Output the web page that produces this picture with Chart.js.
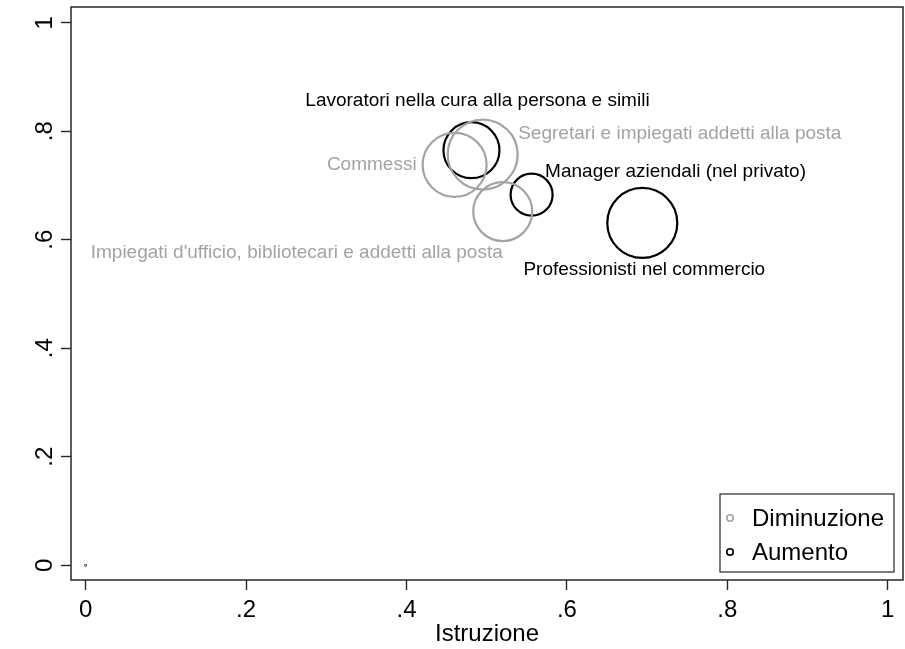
<!DOCTYPE html>
<html>
<head>
<meta charset="utf-8">
<script src="https://cdn.jsdelivr.net/npm/chart.js@4/dist/chart.umd.min.js"></script>
<style>
  html, body { margin: 0; padding: 0; background: #ffffff; }
  #c { display: block; }
</style>
</head>
<body>
<canvas id="c" width="905" height="649"></canvas>
<script>
// Occupations whose weight decreased (grey) and increased (black)
const catDiminuzione = [
  "Commessi",
  "Segretari e impiegati addetti alla posta",
  "Impiegati d'ufficio, bibliotecari e addetti alla posta"
];
const istruzioneDiminuzione = [0.460, 0.495, 0.520];
const valoreDiminuzione = [0.738, 0.757, 0.652];
const pesoDiminuzione = [32, 35, 29.5];

const catAumento = [
  "Lavoratori nella cura alla persona e simili",
  "Manager aziendali (nel privato)",
  "Professionisti nel commercio",
  ""
];
const istruzioneAumento = [0.481, 0.556, 0.694, 0];
const valoreAumento = [0.765, 0.683, 0.631, 0];
const pesoAumento = [28, 21, 35, 0.3];

const xTicks = [0, 0.2, 0.4, 0.6, 0.8, 1];
const xTickLabels = ["0", ".2", ".4", ".6", ".8", "1"];
const yTicks = [0, 0.2, 0.4, 0.6, 0.8, 1];
const yTickLabels = ["0", ".2", ".4", ".6", ".8", "1"];

const xTitle = "Istruzione";
const serieNomi = ["Diminuzione", "Aumento"];

// ---- styling ----
const FONT = "'Liberation Sans', Arial, Helvetica, sans-serif";
const GREY = "#a3a3a3";
const BLACK = "#000000";
const AXIS = "#262626";

// label placement around each bubble (clock position, gap and shift in px)
const labelPlacement = {
  "Commessi": { clock: 9, gap: 6, dx: 0 },
  "Segretari e impiegati addetti alla posta": { clock: 2, gap: 6, dx: 0 },
  "Impiegati d'ufficio, bibliotecari e addetti alla posta": { clock: 7, gap: 2, dx: 0 },
  "Lavoratori nella cura alla persona e simili": { clock: 12, gap: 12, dx: 6 },
  "Manager aziendali (nel privato)": { clock: 1, gap: 6, dx: 0 },
  "Professionisti nel commercio": { clock: 6, gap: 2, dx: 2 }
};

function toPoints(xs, ys, rs) {
  return xs.map((x, i) => ({ x: x, y: ys[i], r: rs[i] }));
}

const decor = {
  id: 'decor',
  afterDatasetsDraw(chart) {
    const ctx = chart.ctx;
    const ca = chart.chartArea;
    ctx.save();

    // plot frame
    ctx.strokeStyle = AXIS;
    ctx.lineWidth = 1.5;
    ctx.strokeRect(ca.left, ca.top, ca.right - ca.left, ca.bottom - ca.top);

    // marker labels
    ctx.font = "19px " + FONT;
    chart.data.datasets.forEach((ds, di) => {
      const meta = chart.getDatasetMeta(di);
      ds.names.forEach((name, i) => {
        const pl = labelPlacement[name];
        if (!name || !pl) return;
        const el = meta.data[i];
        const r = el.options.radius;
        const d = r + pl.gap;
        const ang = (90 - pl.clock * 30) * Math.PI / 180;
        let x = el.x, y = el.y;
        ctx.fillStyle = ds.labelColor;
        if (pl.clock === 12) {
          ctx.textAlign = 'center'; ctx.textBaseline = 'bottom';
          y = el.y - d;
        } else if (pl.clock === 6) {
          ctx.textAlign = 'center'; ctx.textBaseline = 'top';
          y = el.y + d;
        } else if (pl.clock === 9) {
          ctx.textAlign = 'right'; ctx.textBaseline = 'middle';
          x = el.x - d;
        } else if (pl.clock === 7) {
          ctx.textAlign = 'right'; ctx.textBaseline = 'top';
          y = el.y + d;
        } else {
          ctx.textAlign = 'left'; ctx.textBaseline = 'middle';
          x = el.x + d * Math.cos(ang);
          y = el.y - d * Math.sin(ang);
        }
        ctx.fillText(name, x + pl.dx, y);
      });
    });

    // rotated y tick labels
    const ys = chart.scales.y;
    ctx.fillStyle = BLACK;
    ctx.font = "24px " + FONT;
    ctx.textAlign = 'center';
    ctx.textBaseline = 'alphabetic';
    yTicks.forEach((v, i) => {
      const py = ys.getPixelForValue(v);
      ctx.save();
      ctx.translate(ca.left - 28, py);
      ctx.rotate(-Math.PI / 2);
      ctx.fillText(yTickLabels[i], 0, 8.6);
      ctx.restore();
    });

    // legend box in the lower-right corner of the plot
    const bw = 174, bh = 78;
    const bx = ca.right - 9 - bw, by = ca.bottom - 8 - bh;
    ctx.fillStyle = '#ffffff';
    ctx.fillRect(bx, by, bw, bh);
    ctx.strokeStyle = AXIS;
    ctx.lineWidth = 1.2;
    ctx.strokeRect(bx, by, bw, bh);
    ctx.font = "24px " + FONT;
    ctx.textAlign = 'left';
    ctx.textBaseline = 'middle';
    chart.data.datasets.forEach((ds, di) => {
      const cy = by + 24 + di * 34;
      ctx.beginPath();
      ctx.strokeStyle = ds.borderColor;
      ctx.lineWidth = 1.6;
      ctx.arc(bx + 10, cy, 3.2, 0, Math.PI * 2);
      ctx.stroke();
      ctx.fillStyle = BLACK;
      ctx.fillText(ds.label, bx + 32, cy + 1);
    });
    ctx.restore();
  }
};

new Chart(document.getElementById('c'), {
  type: 'bubble',
  data: {
    datasets: [
      {
        label: serieNomi[0],
        names: catDiminuzione,
        labelColor: GREY,
        data: toPoints(istruzioneDiminuzione, valoreDiminuzione, pesoDiminuzione),
        borderColor: GREY,
        backgroundColor: 'rgba(0,0,0,0)',
        borderWidth: 2.2,
        hoverBorderWidth: 2.2
      },
      {
        label: serieNomi[1],
        names: catAumento,
        labelColor: BLACK,
        data: toPoints(istruzioneAumento, valoreAumento, pesoAumento),
        borderColor: BLACK,
        backgroundColor: 'rgba(0,0,0,0)',
        borderWidth: 2.2,
        hoverBorderWidth: 2.2
      }
    ]
  },
  options: {
    responsive: false,
    devicePixelRatio: 1,
    animation: false,
    events: [],
    layout: { autoPadding: false, padding: { top: 7, right: 2, left: 0, bottom: 0 } },
    plugins: {
      legend: { display: false },
      tooltip: { enabled: false }
    },
    scales: {
      x: {
        type: 'linear',
        min: -0.01833,
        max: 1.01908,
        afterBuildTicks: s => { s.ticks = xTicks.map(v => ({ value: v })); },
        afterFit: s => { s.height = 69; },
        border: { display: false },
        grid: {
          drawOnChartArea: false,
          drawTicks: true,
          tickLength: 10,
          tickColor: AXIS,
          tickWidth: 1.4
        },
        ticks: {
          color: BLACK,
          font: { family: FONT, size: 24 },
          padding: 6,
          maxRotation: 0,
          callback: v => xTickLabels[xTicks.indexOf(v)]
        },
        title: {
          display: true,
          text: xTitle,
          color: BLACK,
          font: { family: FONT, size: 24 },
          padding: { top: 0, bottom: 0 }
        }
      },
      y: {
        type: 'linear',
        min: -0.02709,
        max: 1.02894,
        afterBuildTicks: s => { s.ticks = yTicks.map(v => ({ value: v })); },
        afterFit: s => { s.width = 71; },
        border: { display: false },
        grid: {
          drawOnChartArea: false,
          drawTicks: true,
          tickLength: 10,
          tickColor: AXIS,
          tickWidth: 1.4
        },
        ticks: { display: false }
      }
    }
  },
  plugins: [decor]
});
</script>
</body>
</html>
